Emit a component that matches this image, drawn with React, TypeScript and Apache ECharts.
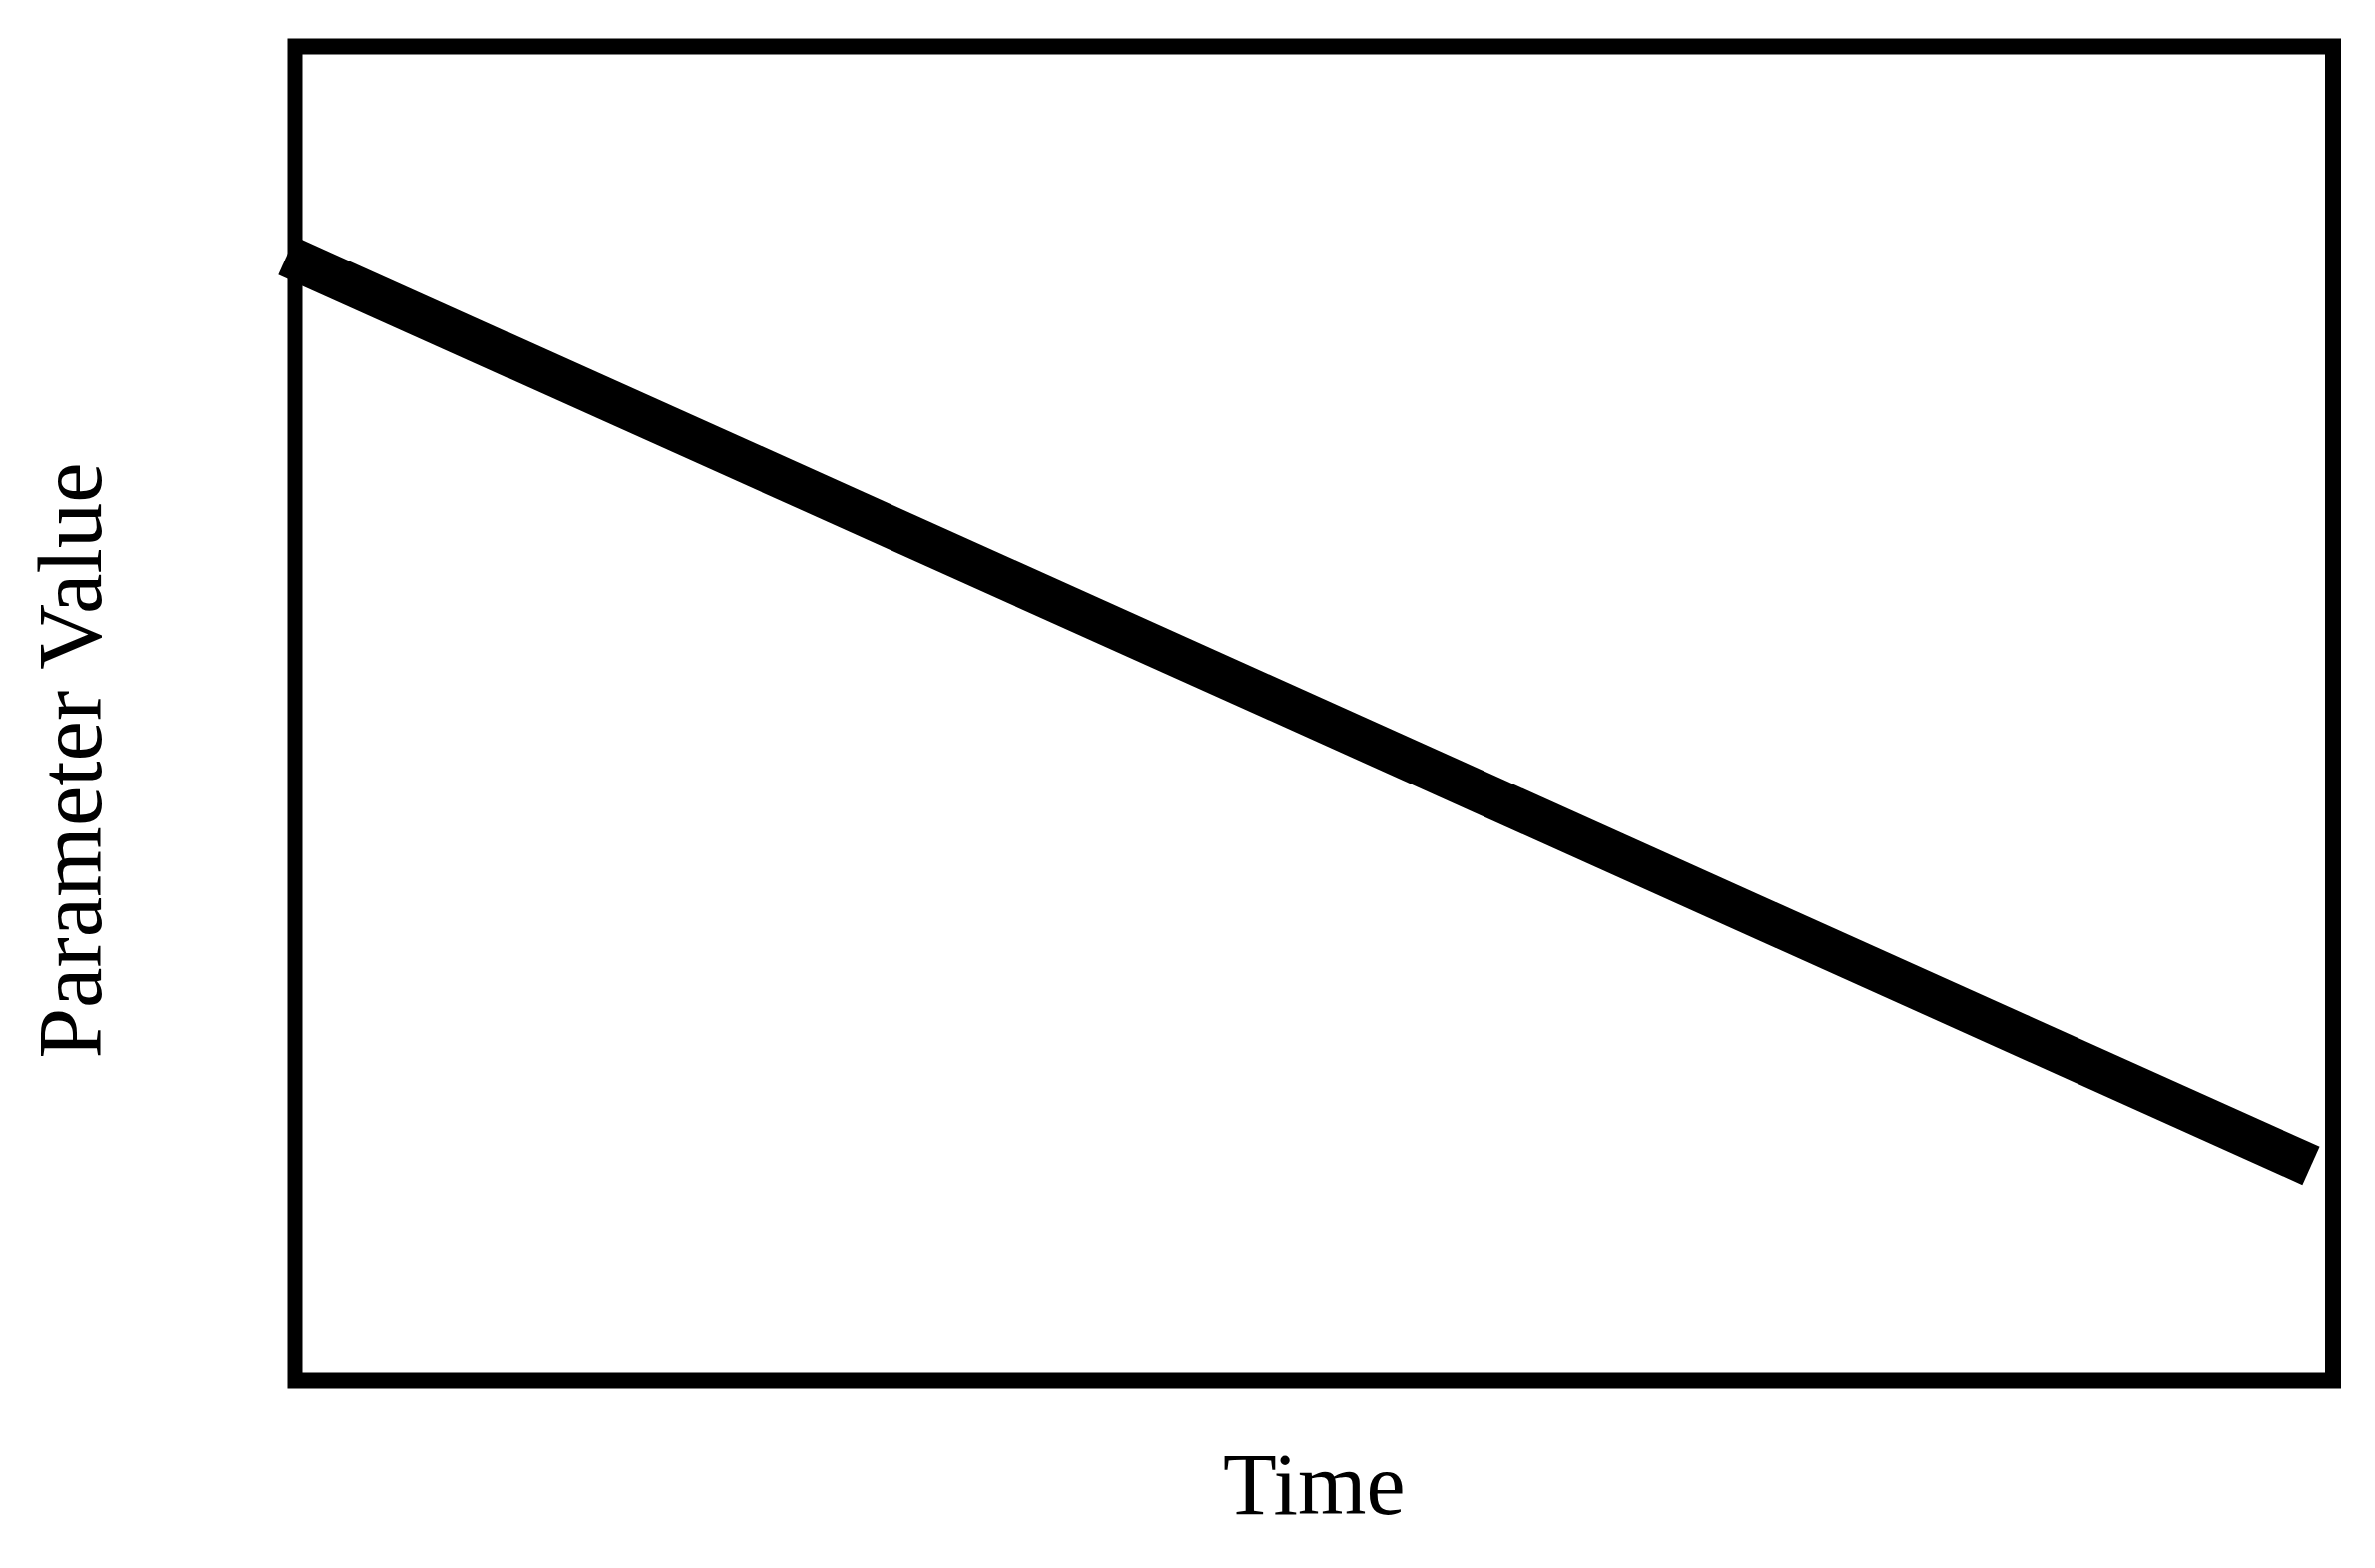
import React, { useEffect, useRef } from "react";
import * as echarts from "echarts";

const timeValues: number[] = [-0.42, 98.92];
const parameterValues: number[] = [84.33, 16.12];
const xAxisTitle = "Time";
const yAxisTitle = "Parameter Value";

export default function App() {
  const ref = useRef<HTMLDivElement>(null);
  useEffect(() => {
    if (!ref.current) return;
    const chart = echarts.init(ref.current, undefined, { renderer: "svg" });
    const data = timeValues.map((t, i) => [t, parameterValues[i]]);
    chart.setOption({
      animation: false,
      backgroundColor: "#ffffff",
      grid: {
        left: 295.5,
        right: 42,
        top: 46.5,
        bottom: 187.5,
        show: true,
        borderColor: "#000000",
        borderWidth: 16,
        backgroundColor: "transparent",
      },
      xAxis: {
        type: "value",
        min: 0,
        max: 100,
        axisLine: { show: false },
        axisTick: { show: false },
        axisLabel: { show: false },
        splitLine: { show: false },
        name: xAxisTitle,
        nameLocation: "middle",
        nameGap: 60,
        nameTextStyle: {
          fontFamily: "Liberation Serif",
          fontSize: 88,
          color: "#000000",
        },
      },
      yAxis: {
        type: "value",
        min: 0,
        max: 100,
        axisLine: { show: false },
        axisTick: { show: false },
        axisLabel: { show: false },
        splitLine: { show: false },
        name: yAxisTitle,
        nameLocation: "middle",
        nameGap: 180,
        nameTextStyle: {
          fontFamily: "Liberation Serif",
          fontSize: 91,
          color: "#000000",
          padding: [0, 94, 0, 0],
        },
      },
      series: [
        {
          type: "line",
          data,
          symbol: "none",
          clip: false,
          lineStyle: { color: "#000000", width: 42, cap: "butt" },
          z: 3,
        },
      ],
    });
    return () => chart.dispose();
  }, []);
  return (
    <div
      ref={ref}
      style={{ position: "absolute", left: 0, top: 0, width: 2379, height: 1571 }}
    />
  );
}
